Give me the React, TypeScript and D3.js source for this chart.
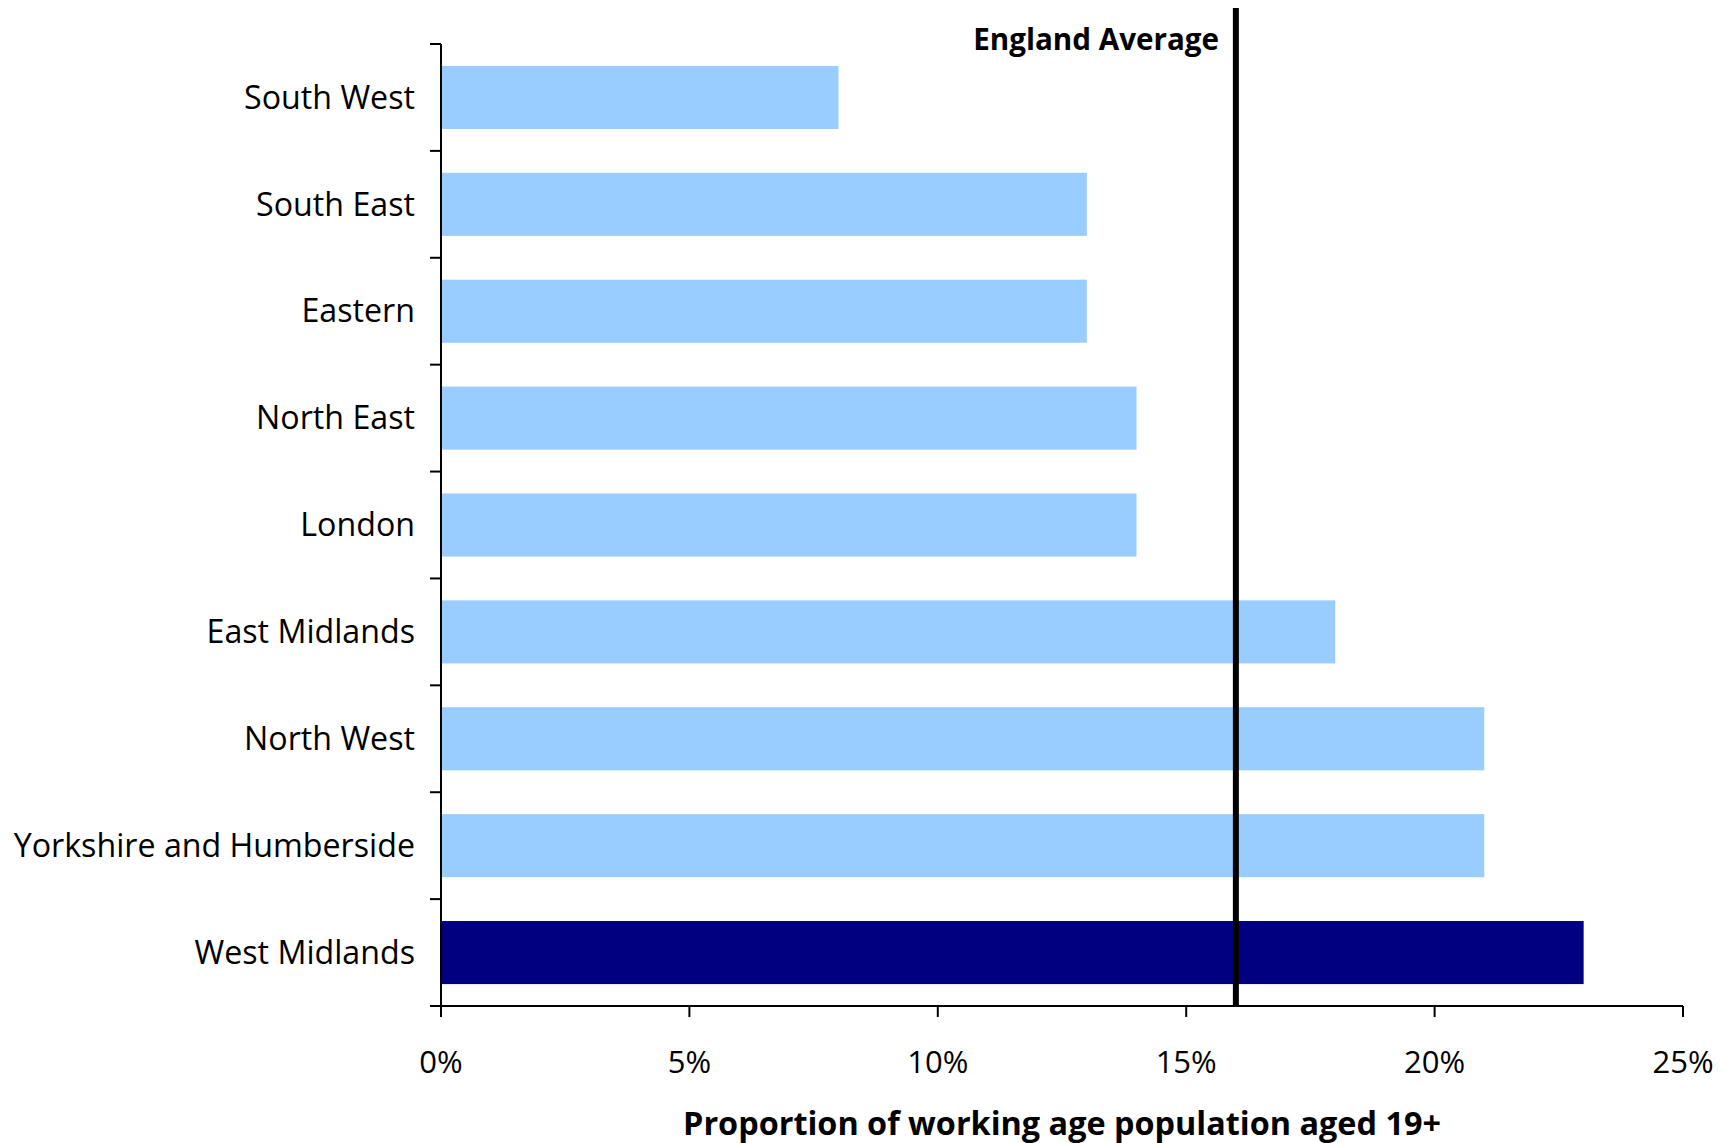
import React from "react";
import * as d3 from "d3";

const categories = [
  "South West",
  "South East",
  "Eastern",
  "North East",
  "London",
  "East Midlands",
  "North West",
  "Yorkshire and Humberside",
  "West Midlands",
];
const values = [8, 13, 13, 14, 14, 18, 21, 21, 23];
const highlight = "West Midlands";
const englandAverage = 16;
const xTicks = [0, 5, 10, 15, 20, 25];

const W = 1724;
const H = 1143;
const left = 441;
const right = 1683;
const top = 44;
const bottom = 1006;
const font = "'Open Sans', 'DejaVu Sans', sans-serif";

export default function App() {
  const x = d3.scaleLinear().domain([0, 25]).range([left, right]);
  const y = d3.scaleBand().domain(categories).range([top, bottom]).paddingInner(0.41).paddingOuter(0.205);
  const yTicks = d3.range(categories.length + 1).map((i) => top + (i * (bottom - top)) / categories.length);
  return (
    <svg width={W} height={H} style={{ position: "absolute", left: 0, top: 0, background: "#fff" }}>
      {categories.map((c, i) => (
        <rect
          key={c}
          x={x(0)}
          y={y(c)}
          width={x(values[i]) - x(0)}
          height={y.bandwidth()}
          fill={c === highlight ? "#000080" : "#99CCFF"}
        />
      ))}
      {/* y axis */}
      <line x1={left} x2={left} y1={top} y2={bottom} stroke="#000" strokeWidth={2} />
      {yTicks.map((t, i) => (
        <line key={i} x1={left - 11} x2={left} y1={t} y2={t} stroke="#000" strokeWidth={2} />
      ))}
      {categories.map((c) => (
        <text
          key={c}
          x={415}
          y={(y(c) as number) + y.bandwidth() / 2}
          dy="0.35em"
          textAnchor="end"
          fontFamily={font}
          fontSize={32.2}
          fill="#000"
        >
          {c}
        </text>
      ))}
      {/* x axis */}
      <line x1={left - 11} x2={right} y1={bottom} y2={bottom} stroke="#000" strokeWidth={2} />
      {xTicks.map((t) => (
        <g key={t}>
          <line x1={x(t)} x2={x(t)} y1={bottom} y2={bottom + 11} stroke="#000" strokeWidth={2} />
          <text x={x(t)} y={1073} textAnchor="middle" fontFamily={font} fontSize={31} fill="#000">
            {t}%
          </text>
        </g>
      ))}
      <text
        x={1062}
        y={1135}
        textAnchor="middle"
        fontFamily={font}
        fontSize={32.4}
        fontWeight="bold"
        fill="#000"
      >
        Proportion of working age population aged 19+
      </text>
      {/* England average */}
      <line
        x1={x(englandAverage)}
        x2={x(englandAverage)}
        y1={8}
        y2={bottom}
        stroke="#000"
        strokeWidth={6}
      />
      <text
        x={1219}
        y={50}
        textAnchor="end"
        fontFamily={font}
        fontSize={29.6}
        fontWeight="bold"
        fill="#000"
      >
        England Average
      </text>
    </svg>
  );
}
